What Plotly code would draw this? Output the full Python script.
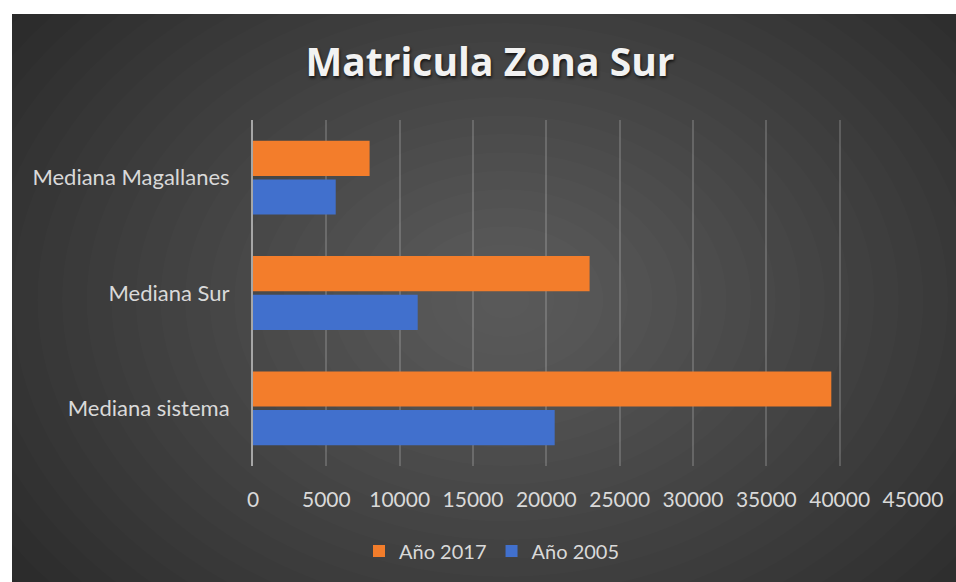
import plotly.graph_objects as go

categories = ["Mediana sistema", "Mediana Sur", "Mediana Magallanes"]
anio_2005 = [20570, 11230, 5640]
anio_2017 = [39430, 22950, 7950]
tick_vals = [0, 5000, 10000, 15000, 20000, 25000, 30000, 35000, 40000, 45000]
tick_text = [str(v) for v in tick_vals]

W, H = 956, 582
L, R, T, B = 253, 43, 120, 116
PW, PH = W - L - R, H - T - B

def px(x):
    return (x - L) / PW

def py(y):
    return (H - B - y) / PH

fig = go.Figure()
fig.add_trace(go.Bar(y=categories, x=anio_2005, name="Año 2005", orientation="h",
                     marker=dict(color="#4170cd", line=dict(width=0))))
fig.add_trace(go.Bar(y=categories, x=anio_2017, name="Año 2017", orientation="h",
                     marker=dict(color="#f37d2b", line=dict(width=0))))

shapes = [dict(type="rect", xref="paper", yref="paper", x0=px(12), x1=px(W + 5),
               y0=py(H + 5), y1=py(14), fillcolor="#282828", line=dict(width=0), layer="below")]
N = 26
cx, cy = 505, 300
for i in range(N):
    f = 1 - i / N
    rx, ry = 640 * f, 480 * f
    shapes.append(dict(type="circle", xref="paper", yref="paper",
                       x0=px(cx - rx), x1=px(cx + rx), y0=py(cy + ry), y1=py(cy - ry),
                       fillcolor="rgba(255,255,255,0.0108)", line=dict(width=0), layer="below"))

fig.update_layout(
    width=W, height=H,
    margin=dict(l=L, r=R, t=T, b=B),
    paper_bgcolor="white",
    plot_bgcolor="rgba(0,0,0,0)",
    shapes=shapes,
    barmode="group",
    bargap=0.33,
    bargroupgap=0.09,
    font=dict(family="Lato", color="#d9d9d9", size=22),
    title=dict(text="Matricula Zona Sur", xref="container", x=490 / W, xanchor="center",
               yref="container", y=1 - 62 / H, yanchor="middle",
               font=dict(family="Open Sans", size=39, weight="bold", color="#f2f2f2",
                         shadow="1px 2px 3px rgba(0,0,0,0.7)")),
    xaxis=dict(range=[0, 45000], tickvals=tick_vals, ticktext=tick_text, showgrid=True,
               gridcolor="rgba(217,217,217,0.22)", gridwidth=2, zeroline=False,
               ticks="outside", ticklen=15, tickcolor="rgba(0,0,0,0)",
               tickfont=dict(size=21, color="#d9d9d9"), fixedrange=True),
    yaxis=dict(categoryorder="array", categoryarray=categories, showline=True,
               linecolor="#a6a6a6", linewidth=2, showgrid=False, zeroline=False,
               ticks="outside", ticklen=17, tickcolor="rgba(0,0,0,0)",
               tickfont=dict(size=22, color="#d9d9d9")),
    legend=dict(orientation="h", x=px(492), xanchor="center", y=py(551), yanchor="middle",
                traceorder="reversed", font=dict(size=20, color="#d9d9d9"),
                bgcolor="rgba(0,0,0,0)", itemwidth=30),
)

fig.write_html("out.html", config={"displayModeBar": False},
               post_script="document.body.style.margin='0px';document.body.style.overflow='hidden';")
